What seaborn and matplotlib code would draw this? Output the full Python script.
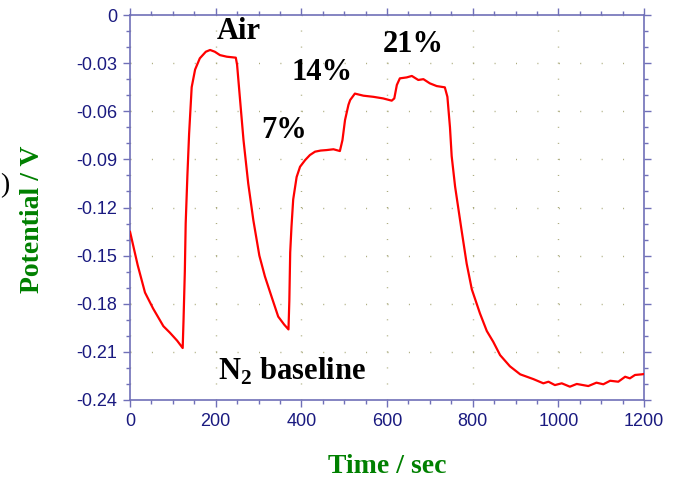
import numpy as np
import pandas as pd
import matplotlib
matplotlib.use("Agg")
import matplotlib.pyplot as plt
import seaborn as sns

# Sensor potential vs. time under N2 / air / O2 steps
time_s = [0, 18, 35, 54, 78, 93, 110, 123, 125, 128, 130, 134, 138, 144, 152, 163,
          177, 187, 198, 210, 226, 247, 250, 257, 265, 276, 288, 302, 315, 331, 346,
          360, 370, 372, 374, 377, 381, 389, 397, 409, 420, 432, 445, 459, 475, 490,
          496, 502, 510, 514, 525, 545, 568, 591, 611, 617, 623, 630, 646, 658, 673,
          685, 700, 716, 735, 741, 747, 751, 759, 774, 786, 798, 817, 833, 848, 864,
          887, 911, 942, 965, 977, 992, 1008, 1027, 1043, 1070, 1089, 1105, 1121,
          1140, 1156, 1167, 1179, 1195, 1200]
potential_v = [-0.135, -0.156, -0.173, -0.183, -0.194, -0.198, -0.203, -0.2076,
               -0.190, -0.160, -0.130, -0.100, -0.074, -0.045, -0.034, -0.027,
               -0.0229, -0.0218, -0.0229, -0.025, -0.026, -0.0266, -0.031, -0.053,
               -0.078, -0.105, -0.128, -0.150, -0.163, -0.176, -0.188, -0.193,
               -0.196, -0.178, -0.148, -0.132, -0.115, -0.101, -0.0946, -0.0904,
               -0.0873, -0.0852, -0.0845, -0.0842, -0.0837, -0.0848, -0.078,
               -0.0655, -0.056, -0.053, -0.049, -0.0503, -0.051, -0.052, -0.0534,
               -0.052, -0.0436, -0.0395, -0.0389, -0.038, -0.0405, -0.040, -0.0426,
               -0.0443, -0.0451, -0.051, -0.070, -0.088, -0.107, -0.134, -0.155,
               -0.171, -0.186, -0.197, -0.2037, -0.212, -0.219, -0.224, -0.227,
               -0.2296, -0.2286, -0.2307, -0.2296, -0.2317, -0.230, -0.2313,
               -0.2292, -0.2302, -0.228, -0.2286, -0.2255, -0.2265, -0.2244,
               -0.224, -0.2238]

x_ticks = [0, 200, 400, 600, 800, 1000, 1200]
x_tick_labels = ["0", "200", "400", "600", "800", "1000", "1200"]
y_ticks = [0, -0.03, -0.06, -0.09, -0.12, -0.15, -0.18, -0.21, -0.24]
y_tick_labels = ["0", "-0.03", "-0.06", "-0.09", "-0.12", "-0.15", "-0.18", "-0.21", "-0.24"]

# Gas-step annotations: text, time, potential (baseline of text)
note_text = ["Air", "7%", "14%", "21%", r"N$_\mathbf{2}$ baseline"]
note_t = [202, 307, 376, 591, 205]
note_v = [-0.0152, -0.0769, -0.0405, -0.0233, -0.2276]

sns.set_style("white")
plt.rcParams["font.family"] = ["Liberation Sans", "DejaVu Sans"]
plt.rcParams["lines.scale_dashes"] = False
plt.rcParams["mathtext.fontset"] = "custom"
plt.rcParams["mathtext.rm"] = "Liberation Serif:bold"
plt.rcParams["mathtext.bf"] = "Liberation Serif:bold"

spine_col = "#7070b8"
label_col = "#1a1a80"
grid_col = "#a8a878"

fig = plt.figure(figsize=(6.77, 4.82), dpi=100)
ax = fig.add_axes([130 / 677, 82 / 482, 514 / 677, 385 / 482])

df = pd.DataFrame({"Time": time_s, "Potential": potential_v})
sns.lineplot(data=df, x="Time", y="Potential", ax=ax, color="#ff0000",
             linewidth=1.6, zorder=3)

ax.set_xlim(0, 1200)
ax.set_ylim(-0.24, 0)
ax.set_xticks(x_ticks)
ax.set_xticklabels(x_tick_labels)
ax.set_yticks(y_ticks)
ax.set_yticklabels(y_tick_labels)
ax.set_xticks(np.arange(0, 1201, 50), minor=True)
ax.set_yticks(np.arange(-0.24, 0.0001, 0.01), minor=True)

for side in ["left", "right", "top", "bottom"]:
    ax.spines[side].set_visible(True)
    ax.spines[side].set_color(spine_col)
    ax.spines[side].set_linewidth(1.2)

ax.tick_params(which="both", direction="out", color=spine_col, width=1.0,
               top=True, right=True, bottom=True, left=True,
               labeltop=False, labelright=False)
ax.tick_params(which="major", length=5, pad=4, labelsize=13, labelcolor=label_col)
ax.tick_params(which="minor", length=3)

# Dotted grid: dots every 0.01 V on the time grid lines, every 50 s on the potential grid lines
ax.xaxis.grid(True, which="major", color=grid_col, linewidth=1.0,
              linestyle=(0, (0.7, 385 / 24 * 0.72 - 0.7)), zorder=0)
ax.yaxis.grid(True, which="major", color=grid_col, linewidth=1.0,
              linestyle=(0, (0.7, 514 / 24 * 0.72 - 0.7)), zorder=0)
ax.set_axisbelow(True)

ax.set_xlabel("Time / sec", fontsize=20, fontweight="bold", color="#008000",
              family="Liberation Serif")
ax.set_ylabel("Potential / V", fontsize=20, fontweight="bold", color="#008000",
              family="Liberation Serif")
ax.xaxis.label.set_va("center")
ax.yaxis.label.set_va("center")
ax.xaxis.set_label_coords(0.5, -0.174)
ax.yaxis.set_label_coords(-0.189, 0.47)

for txt, t, v in zip(note_text, note_t, note_v):
    ax.text(t, v, txt, fontsize=22, fontweight="bold", family="Liberation Serif",
            color="black", ha="left", va="baseline", zorder=4)

fig.text(0.5 / 677, 1 - 192 / 482, ")", fontsize=20, family="Liberation Serif",
         color="black", ha="left", va="baseline")

fig.savefig("out.png", dpi=100)
